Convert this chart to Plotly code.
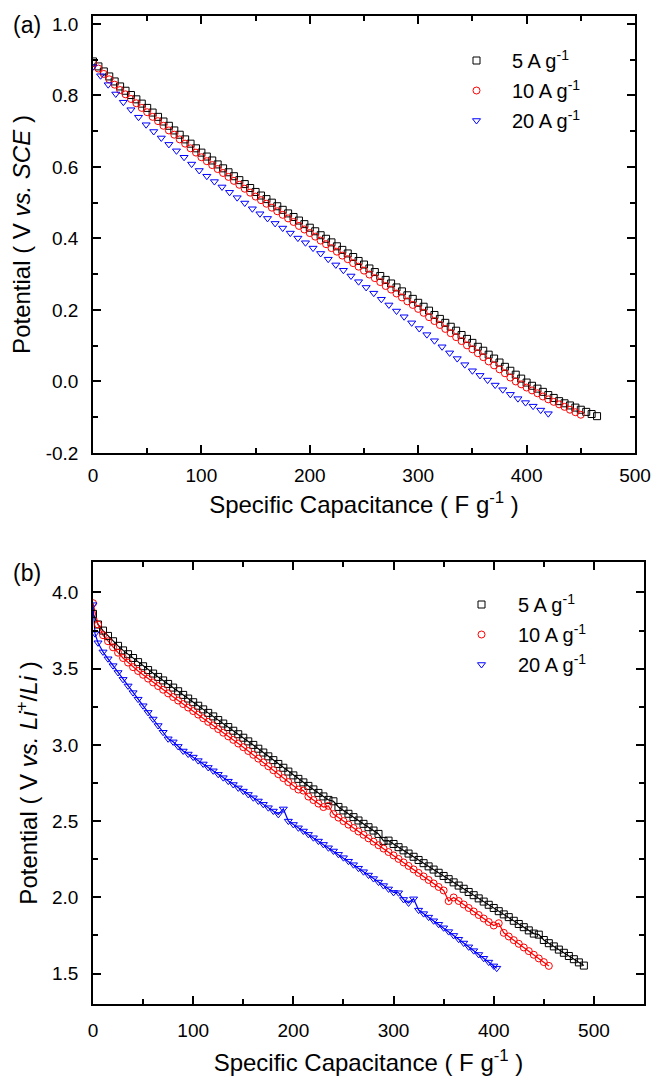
import plotly.graph_objects as go

# ---- panel (a): potential vs SCE ----
cap_a_5 = [0, 5, 10, 15, 20, 25, 30, 35, 40, 45, 50, 55, 60, 65, 70, 75, 80, 85, 90, 95,
           100, 105, 110, 115, 120, 125, 130, 135, 140, 145, 150, 155, 160, 165, 170, 175, 180, 185, 190, 195,
           200, 205, 210, 215, 220, 225, 230, 235, 240, 245, 250, 255, 260, 265, 270, 275, 280, 285, 290, 295,
           300, 305, 310, 315, 320, 325, 330, 335, 340, 345, 350, 355, 360, 365, 370, 375, 380, 385, 390, 395,
           400, 405, 410, 415, 420, 425, 430, 435, 440, 445, 450, 455, 460, 465]
pot_a_5 = [0.895, 0.881, 0.867, 0.853, 0.839, 0.825, 0.813, 0.801, 0.789, 0.777, 0.765, 0.752, 0.740, 0.727, 0.715, 0.702, 0.690, 0.677, 0.665, 0.652,
           0.640, 0.629, 0.618, 0.607, 0.596, 0.585, 0.574, 0.563, 0.552, 0.541, 0.530, 0.520, 0.510, 0.500, 0.490, 0.480, 0.470, 0.460, 0.450, 0.440,
           0.430, 0.420, 0.409, 0.399, 0.389, 0.378, 0.368, 0.358, 0.348, 0.337, 0.327, 0.316, 0.306, 0.295, 0.284, 0.274, 0.263, 0.252, 0.241, 0.231,
           0.220, 0.209, 0.198, 0.186, 0.175, 0.164, 0.153, 0.142, 0.130, 0.119, 0.108, 0.097, 0.086, 0.075, 0.064, 0.053, 0.041, 0.030, 0.019, 0.008,
           -0.003, -0.012, -0.020, -0.029, -0.038, -0.046, -0.055, -0.061, -0.067, -0.073, -0.079, -0.085, -0.091, -0.097]

cap_a_10 = [0, 5, 10, 15, 20, 25, 30, 35, 40, 45, 50, 55, 60, 65, 70, 75, 80, 85, 90, 95,
            100, 105, 110, 115, 120, 125, 130, 135, 140, 145, 150, 155, 160, 165, 170, 175, 180, 185, 190, 195,
            200, 205, 210, 215, 220, 225, 230, 235, 240, 245, 250, 255, 260, 265, 270, 275, 280, 285, 290, 295,
            300, 305, 310, 315, 320, 325, 330, 335, 340, 345, 350, 355, 360, 365, 370, 375, 380, 385, 390, 395,
            400, 405, 410, 415, 420, 425, 430, 435, 440, 445, 450]
pot_a_10 = [0.890, 0.875, 0.860, 0.845, 0.830, 0.815, 0.803, 0.790, 0.778, 0.765, 0.753, 0.740, 0.728, 0.715, 0.702, 0.690, 0.677, 0.665, 0.652, 0.640,
            0.627, 0.616, 0.605, 0.594, 0.583, 0.572, 0.561, 0.550, 0.539, 0.528, 0.517, 0.507, 0.497, 0.486, 0.476, 0.466, 0.456, 0.446, 0.435, 0.425,
            0.415, 0.405, 0.394, 0.384, 0.373, 0.363, 0.352, 0.342, 0.331, 0.321, 0.310, 0.299, 0.289, 0.278, 0.267, 0.257, 0.246, 0.235, 0.224, 0.214,
            0.203, 0.192, 0.180, 0.169, 0.158, 0.147, 0.135, 0.124, 0.113, 0.101, 0.090, 0.079, 0.068, 0.056, 0.045, 0.034, 0.023, 0.011, 0.000, -0.008,
            -0.017, -0.025, -0.033, -0.042, -0.050, -0.057, -0.064, -0.071, -0.079, -0.086, -0.093]

cap_a_20 = [0, 7, 14, 21, 28, 35, 42, 49, 56, 63, 70, 77, 84, 91, 98, 105, 112, 119, 126, 133,
            140, 147, 154, 161, 168, 175, 182, 189, 196, 203, 210, 217, 224, 231, 238, 245, 252, 259, 266, 273,
            280, 287, 294, 301, 308, 315, 322, 329, 336, 343, 350, 357, 364, 371, 378, 385, 392, 399, 406, 413, 420]
pot_a_20 = [0.880, 0.855, 0.830, 0.804, 0.781, 0.760, 0.739, 0.718, 0.699, 0.681, 0.663, 0.645, 0.627, 0.608, 0.590, 0.574, 0.559, 0.544, 0.529, 0.514,
            0.499, 0.483, 0.469, 0.456, 0.442, 0.429, 0.415, 0.401, 0.388, 0.373, 0.358, 0.342, 0.326, 0.311, 0.295, 0.279, 0.263, 0.247, 0.230, 0.214,
            0.197, 0.181, 0.164, 0.148, 0.131, 0.114, 0.097, 0.080, 0.064, 0.047, 0.030, 0.017, 0.004, -0.010, -0.023, -0.036, -0.048, -0.059, -0.069, -0.080, -0.090]

# ---- panel (b): potential vs Li+/Li ----
cap_b_5 = [0, 5, 10, 15, 20, 25, 30, 35, 40, 45, 50, 55, 60, 65, 70, 75, 80, 85, 90, 95,
           100, 105, 110, 115, 120, 125, 130, 135, 140, 145, 150, 155, 160, 165, 170, 175, 180, 185, 190, 195,
           200, 205, 210, 215, 220, 225, 230, 235, 240, 245, 250, 255, 260, 265, 270, 275, 280, 285, 290, 295,
           300, 305, 310, 315, 320, 325, 330, 335, 340, 345, 350, 355, 360, 365, 370, 375, 380, 385, 390, 395,
           400, 405, 410, 415, 420, 425, 430, 435, 440, 445, 450, 455, 460, 465, 470, 475, 480, 485, 490]
pot_b_5 = [3.86, 3.79, 3.75, 3.715, 3.68, 3.65, 3.62, 3.595, 3.57, 3.543, 3.516, 3.491, 3.468, 3.446, 3.423, 3.40, 3.376, 3.352, 3.328, 3.304,
           3.28, 3.257, 3.233, 3.21, 3.187, 3.163, 3.14, 3.117, 3.093, 3.07, 3.047, 3.023, 3.00, 2.975, 2.95, 2.925, 2.90, 2.875, 2.85, 2.825,
           2.80, 2.777, 2.754, 2.731, 2.708, 2.685, 2.662, 2.639, 2.63, 2.593, 2.57, 2.548, 2.526, 2.504, 2.482, 2.46, 2.438, 2.416, 2.37, 2.372,
           2.35, 2.329, 2.308, 2.287, 2.266, 2.245, 2.224, 2.203, 2.182, 2.161, 2.14, 2.119, 2.098, 2.077, 2.056, 2.035, 2.014, 1.993, 1.972, 1.951,
           1.93, 1.909, 1.888, 1.87, 1.846, 1.825, 1.804, 1.783, 1.762, 1.755, 1.72, 1.699, 1.678, 1.657, 1.636, 1.615, 1.594, 1.573, 1.552]

cap_b_10 = [0, 5, 10, 15, 20, 25, 30, 35, 40, 45, 50, 55, 60, 65, 70, 75, 80, 85, 90, 95,
            100, 105, 110, 115, 120, 125, 130, 135, 140, 145, 150, 155, 160, 165, 170, 175, 180, 185, 190, 195,
            200, 205, 210, 215, 220, 225, 230, 235, 240, 245, 250, 255, 260, 265, 270, 275, 280, 285, 290, 295,
            300, 305, 310, 315, 320, 325, 330, 335, 340, 345, 350, 355, 360, 365, 370, 375, 380, 385, 390, 395,
            400, 405, 410, 415, 420, 425, 430, 435, 440, 445, 450, 455]
pot_b_10 = [3.93, 3.79, 3.72, 3.68, 3.64, 3.605, 3.57, 3.54, 3.51, 3.485, 3.46, 3.435, 3.41, 3.386, 3.362, 3.338, 3.314, 3.291, 3.268, 3.245,
            3.222, 3.199, 3.175, 3.151, 3.128, 3.104, 3.08, 3.056, 3.033, 3.009, 2.985, 2.96, 2.935, 2.91, 2.885, 2.86, 2.834, 2.808, 2.782, 2.756,
            2.73, 2.707, 2.70, 2.661, 2.638, 2.615, 2.592, 2.60, 2.546, 2.523, 2.50, 2.477, 2.455, 2.432, 2.41, 2.387, 2.365, 2.342, 2.32, 2.297,
            2.275, 2.252, 2.229, 2.206, 2.183, 2.16, 2.137, 2.114, 2.091, 2.068, 2.045, 1.975, 1.999, 1.976, 1.953, 1.93, 1.907, 1.884, 1.861, 1.838,
            1.815, 1.83, 1.767, 1.743, 1.719, 1.695, 1.671, 1.647, 1.623, 1.599, 1.575, 1.55]

cap_b_20 = [0, 2, 5, 10, 15, 20, 25, 30, 35, 40, 45, 50, 55, 60, 65, 70, 75, 80, 85, 90, 95,
            100, 105, 110, 115, 120, 125, 130, 135, 140, 145, 150, 155, 160, 165, 170, 175, 180, 185, 190, 195,
            200, 205, 210, 215, 220, 225, 230, 235, 240, 245, 250, 255, 260, 265, 270, 275, 280, 285, 290, 295,
            300, 305, 310, 315, 320, 325, 330, 335, 340, 345, 350, 355, 360, 365, 370, 375, 380, 385, 390, 395, 400, 403]
pot_b_20 = [3.92, 3.73, 3.67, 3.61, 3.565, 3.52, 3.475, 3.43, 3.387, 3.343, 3.30, 3.257, 3.213, 3.17, 3.127, 3.083, 3.04, 3.02, 2.99, 2.96, 2.94,
            2.92, 2.897, 2.875, 2.852, 2.83, 2.807, 2.785, 2.762, 2.74, 2.718, 2.697, 2.675, 2.653, 2.632, 2.61, 2.588, 2.566, 2.544, 2.58, 2.50,
            2.478, 2.456, 2.435, 2.413, 2.391, 2.369, 2.347, 2.325, 2.304, 2.282, 2.26, 2.237, 2.214, 2.191, 2.168, 2.146, 2.123, 2.10, 2.077, 2.055,
            2.032, 2.03, 1.986, 1.963, 1.99, 1.916, 1.893, 1.87, 1.846, 1.823, 1.80, 1.775, 1.75, 1.725, 1.70, 1.675, 1.65, 1.625, 1.60, 1.575, 1.55, 1.535]

labels = ["5 A g<sup>-1</sup>", "10 A g<sup>-1</sup>", "20 A g<sup>-1</sup>"]
colors = ["#000000", "#ff0000", "#0000ff"]
symbols = ["square-open", "circle-open", "triangle-down-open"]

# tick labels (keep ASCII hyphen for the negative value)
yticks_a = [-0.2, 0.0, 0.2, 0.4, 0.6, 0.8, 1.0]
yticktext_a = ["-0.2", "0.0", "0.2", "0.4", "0.6", "0.8", "1.0"]

FONT = "Liberation Sans, Arial, sans-serif"
W, H = 652, 1078

fig = go.Figure()

series_a = [(cap_a_5, pot_a_5), (cap_a_10, pot_a_10), (cap_a_20, pot_a_20)]
series_b = [(cap_b_5, pot_b_5), (cap_b_10, pot_b_10), (cap_b_20, pot_b_20)]

for i, (x, y) in enumerate(series_a):
    fig.add_trace(go.Scatter(x=x, y=y, mode="markers", name=labels[i],
                             marker=dict(symbol=symbols[i], size=7, color=colors[i], line=dict(width=1, color=colors[i])),
                             xaxis="x", yaxis="y", legend="legend", legendgroup="a%d" % i))
# thin connecting lines in panel (b), kept out of the legend
for i, (x, y) in enumerate(series_b):
    fig.add_trace(go.Scatter(x=x, y=y, mode="lines", showlegend=False, hoverinfo="skip",
                             line=dict(width=1.2, color=colors[i]), xaxis="x2", yaxis="y2"))
for i, (x, y) in enumerate(series_b):
    fig.add_trace(go.Scatter(x=x, y=y, mode="markers", name=labels[i],
                             marker=dict(symbol=symbols[i], size=7, color=colors[i], line=dict(width=1, color=colors[i])),
                             xaxis="x2", yaxis="y2", legend="legend2", legendgroup="b%d" % i))


def px_x(p):
    return p / W


def px_y(p):
    return 1 - p / H


minor_tick = dict(ticklen=5, tickwidth=1.5, ticks="inside", tickcolor="black")
axis_common = dict(showline=True, linewidth=1.5, linecolor="black", mirror="ticks",
                   ticks="inside", ticklen=8, tickwidth=1.5, tickcolor="black",
                   showgrid=False, zeroline=False, automargin=False,
                   tickfont=dict(family=FONT, size=19, color="black"),
                   title_font=dict(family=FONT, size=24, color="black"))
legend_common = dict(xanchor="left", yanchor="top", bgcolor="rgba(0,0,0,0)",
                     font=dict(family=FONT, size=20, color="black"),
                     traceorder="grouped", tracegroupgap=1)

fig.update_layout(
    width=W, height=H,
    margin=dict(l=0, r=0, t=0, b=0),
    paper_bgcolor="white", plot_bgcolor="white",
    font=dict(family=FONT, color="black"),
    showlegend=True,
    xaxis=dict(domain=[px_x(93), px_x(635)], range=[0, 500], dtick=100, tick0=0,
               minor=dict(dtick=50, **minor_tick), anchor="y",
               title=dict(text="Specific Capacitance ( F g<sup>-1</sup> )", standoff=12),
               ticklabelstandoff=4, **axis_common),
    yaxis=dict(domain=[px_y(453), px_y(16)], range=[-0.2, 1.022],
               tickmode="array", tickvals=yticks_a, ticktext=yticktext_a,
               minor=dict(dtick=0.1, tick0=0, **minor_tick), anchor="x",
               title=dict(text="Potential ( V <i>vs.</i> <i>SCE</i> )", standoff=8),
               ticklabelstandoff=9, **axis_common),
    xaxis2=dict(domain=[px_x(93), px_x(644)], range=[0, 550], dtick=100, tick0=0,
                minor=dict(dtick=50, **minor_tick), anchor="y2",
                title=dict(text="Specific Capacitance ( F g<sup>-1</sup> )", standoff=15),
                ticklabelstandoff=8, **axis_common),
    yaxis2=dict(domain=[px_y(1004), px_y(562)], range=[1.3, 4.2], dtick=0.5, tick0=0, tickformat=".1f",
                minor=dict(dtick=0.25, **minor_tick), anchor="x2",
                title=dict(text="Potential ( V <i>vs.</i> <i>Li</i><sup>+</sup>/<i>Li</i> )", standoff=8),
                ticklabelstandoff=9, **axis_common),
    legend=dict(x=px_x(441), y=px_y(41), itemwidth=61, **legend_common),
    legend2=dict(x=px_x(445), y=px_y(585), itemwidth=63, **legend_common),
    annotations=[
        dict(text="(a)", x=px_x(11), y=px_y(25), xref="paper", yref="paper", xanchor="left", yanchor="middle",
             showarrow=False, font=dict(family=FONT, size=23, color="black")),
        dict(text="(b)", x=px_x(11), y=px_y(573), xref="paper", yref="paper", xanchor="left", yanchor="middle",
             showarrow=False, font=dict(family=FONT, size=23, color="black")),
    ],
)

# page body has an 8px default margin; drop it so the figure sits at the window origin
fig.write_html("out.html", config={"displayModeBar": False},
               post_script="document.body.style.margin='0';")
